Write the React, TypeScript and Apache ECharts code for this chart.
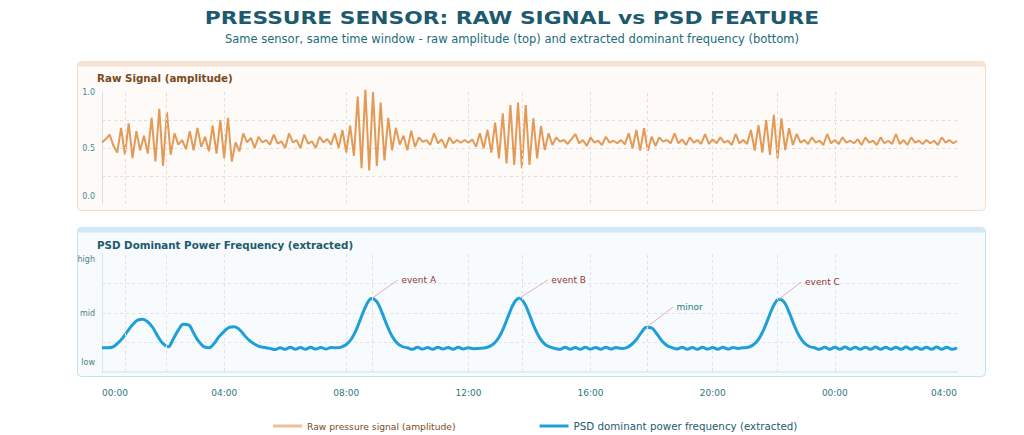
import { useEffect, useRef } from "react";
import * as echarts from "echarts";

// raw samples every 7.5 minutes, 00:00 -> 04:00 next day
const RAW_STEP_HOURS = 0.125;
const rawSignal = [
  0.55, 0.58, 0.62, 0.52, 0.46, 0.68, 0.44, 0.72,
  0.41, 0.65, 0.48, 0.61, 0.45, 0.77, 0.38, 0.85,
  0.34, 0.82, 0.44, 0.63, 0.53, 0.57, 0.49, 0.65,
  0.48, 0.68, 0.51, 0.6, 0.47, 0.7, 0.45, 0.75,
  0.41, 0.77, 0.38, 0.55, 0.47, 0.63, 0.55, 0.59,
  0.5, 0.6, 0.55, 0.57, 0.53, 0.62, 0.54, 0.56,
  0.5, 0.63, 0.55, 0.57, 0.5, 0.62, 0.54, 0.56,
  0.5, 0.6, 0.55, 0.58, 0.53, 0.63, 0.5, 0.66,
  0.46, 0.7, 0.43, 0.96, 0.32, 1.02, 0.3, 1.0,
  0.34, 0.905, 0.39, 0.77, 0.48, 0.68, 0.53, 0.61,
  0.48, 0.655, 0.51, 0.595, 0.556, 0.571, 0.527, 0.631,
  0.542, 0.577, 0.503, 0.595, 0.542, 0.571, 0.547, 0.571,
  0.547, 0.577, 0.512, 0.631, 0.497, 0.661, 0.458, 0.726,
  0.408, 0.81, 0.363, 0.884, 0.348, 0.905, 0.319, 0.884,
  0.348, 0.766, 0.408, 0.696, 0.482, 0.631, 0.527, 0.595,
  0.557, 0.571, 0.536, 0.58, 0.625, 0.542, 0.571, 0.518,
  0.595, 0.548, 0.565, 0.527, 0.601, 0.548, 0.565, 0.542,
  0.571, 0.533, 0.631, 0.497, 0.661, 0.476, 0.676, 0.476,
  0.601, 0.518, 0.595, 0.557, 0.571, 0.542, 0.631, 0.542,
  0.577, 0.527, 0.595, 0.548, 0.571, 0.536, 0.625, 0.536,
  0.577, 0.542, 0.595, 0.548, 0.565, 0.527, 0.625, 0.542,
  0.571, 0.536, 0.661, 0.476, 0.705, 0.458, 0.75, 0.438,
  0.795, 0.408, 0.765, 0.482, 0.676, 0.527, 0.625, 0.548,
  0.571, 0.536, 0.595, 0.548, 0.565, 0.527, 0.625, 0.542,
  0.571, 0.536, 0.595, 0.548, 0.565, 0.542, 0.577, 0.527,
  0.595, 0.548, 0.565, 0.527, 0.595, 0.542, 0.565, 0.536,
  0.625, 0.536, 0.571, 0.527, 0.595, 0.548, 0.565, 0.536,
  0.571, 0.542, 0.565, 0.527, 0.595, 0.548, 0.571, 0.542,
  0.565,
];

// PSD feature every 10 minutes
const PSD_STEP_HOURS = 1 / 6;
const psdFrequency = [
  0.206, 0.206, 0.21, 0.24, 0.285, 0.345,
  0.4, 0.44, 0.447, 0.425, 0.375, 0.3,
  0.24, 0.215, 0.28, 0.355, 0.405, 0.4,
  0.33, 0.26, 0.215, 0.205, 0.24, 0.3,
  0.345, 0.378, 0.384, 0.36, 0.31, 0.265,
  0.235, 0.215, 0.207, 0.2, 0.19, 0.205,
  0.192, 0.21, 0.193, 0.207, 0.192, 0.21,
  0.194, 0.208, 0.195, 0.208, 0.205, 0.211,
  0.233, 0.28, 0.362, 0.471, 0.573, 0.623,
  0.596, 0.506, 0.396, 0.303, 0.245, 0.216,
  0.205, 0.192, 0.21, 0.194, 0.208, 0.192,
  0.21, 0.195, 0.208, 0.193, 0.21, 0.195,
  0.205, 0.198, 0.2, 0.203, 0.214, 0.24,
  0.294, 0.383, 0.493, 0.588, 0.624, 0.582,
  0.484, 0.374, 0.289, 0.237, 0.213, 0.2,
  0.192, 0.21, 0.193, 0.208, 0.192, 0.21,
  0.194, 0.208, 0.193, 0.21, 0.195, 0.207,
  0.2, 0.205, 0.231, 0.276, 0.336, 0.379,
  0.374, 0.324, 0.265, 0.225, 0.207, 0.195,
  0.21, 0.193, 0.208, 0.192, 0.21, 0.194,
  0.208, 0.193, 0.21, 0.195, 0.207, 0.2,
  0.205, 0.21, 0.231, 0.277, 0.357, 0.463,
  0.565, 0.617, 0.594, 0.507, 0.397, 0.305,
  0.246, 0.216, 0.205, 0.192, 0.21, 0.193,
  0.21, 0.192, 0.211, 0.193, 0.21, 0.192,
  0.21, 0.193, 0.211, 0.192, 0.21, 0.193,
  0.21, 0.192, 0.211, 0.193, 0.21, 0.192,
  0.21, 0.193, 0.211, 0.192, 0.21, 0.193,
  0.205,
];

const timeLabels = ["00:00", "04:00", "08:00", "12:00", "16:00", "20:00", "00:00", "04:00"];
const rawTickLabels: Record<string, string> = { "0": "{lo|0.0}", "0.5": "0.5", "1": "1.0" };
const psdTickLabels: Record<string, string> = { "0": "{lo|low}", "0.5": "mid", "1": "{hi|high}" };

// dashed event markers (hours)
const rawMarkerHours = [0.75, 2.1, 13.77, 17.87, 22.1];
const psdMarkerHours = [0.75, 2.1, 8.86, 13.77, 17.87, 22.1];

// callouts on PSD peaks: index into psdFrequency
const callouts = [
  { name: "event A", peakIndex: 53, kind: "event" },
  { name: "event B", peakIndex: 82, kind: "event" },
  { name: "minor", peakIndex: 107, kind: "minor" },
  { name: "event C", peakIndex: 133, kind: "event" },
];
const calloutEnds = [
  [9.69, 0.78],
  [14.6, 0.78],
  [18.7, 0.55],
  [22.91, 0.765],
];

const FONT = "DejaVu Sans";
const RAW_NAME = "Raw pressure signal (amplitude)";
const PSD_NAME = "PSD dominant power frequency (extracted)";

export default function App() {
  const ref = useRef<HTMLDivElement>(null);
  useEffect(() => {
    document.body.style.margin = "0";
    if (!ref.current) return;
    const chart = echarts.init(ref.current, undefined, { renderer: "svg" });

    const rawData = rawSignal.map((v, i) => [i * RAW_STEP_HOURS, v]);
    const psdData = psdFrequency.map((v, i) => [i * PSD_STEP_HOURS, v]);

    const xBase = {
      type: "value",
      min: 0,
      max: 28,
      interval: 4,
      axisTick: { show: false },
    };

    chart.setOption({
      animation: false,
      textStyle: { fontFamily: FONT },
      graphic: {
        elements: [
          {
            type: "rect", z: -10, silent: true,
            shape: { x: 77.5, y: 61.5, width: 908, height: 149, r: 4 },
            style: { fill: "#fdfaf8", stroke: "#f2dccb", lineWidth: 1 },
          },
          {
            type: "rect", z: -9, silent: true,
            shape: { x: 77.5, y: 61.5, width: 908, height: 5, r: [4, 4, 0, 0] },
            style: { fill: "#f6e3d3" },
          },
          {
            type: "rect", z: -10, silent: true,
            shape: { x: 77.5, y: 227.5, width: 908, height: 149, r: 4 },
            style: { fill: "#f7fbfd", stroke: "#c4e2ef", lineWidth: 1 },
          },
          {
            type: "rect", z: -9, silent: true,
            shape: { x: 77.5, y: 227.5, width: 908, height: 5, r: [4, 4, 0, 0] },
            style: { fill: "#d0e9f4" },
          },
          {
            type: "text", x: 512, y: 18, scaleX: 1.21,
            style: {
              text: "PRESSURE SENSOR: RAW SIGNAL vs PSD FEATURE",
              fontFamily: FONT, fontSize: 18, fontWeight: "bold",
              fill: "#1d5a6e", align: "center", verticalAlign: "middle",
            },
          },
          {
            type: "text", x: 512, y: 39,
            style: {
              text: "Same sensor, same time window - raw amplitude (top) and extracted dominant frequency (bottom)",
              fontFamily: FONT, fontSize: 11.5,
              fill: "#216c7a", align: "center", verticalAlign: "middle",
            },
          },
          {
            type: "text", x: 97, y: 78,
            style: {
              text: "Raw Signal (amplitude)",
              fontFamily: FONT, fontSize: 10.3, fontWeight: "bold",
              fill: "#7b4a1c", verticalAlign: "middle",
            },
          },
          {
            type: "text", x: 97, y: 244.5,
            style: {
              text: "PSD Dominant Power Frequency (extracted)",
              fontFamily: FONT, fontSize: 10.3, fontWeight: "bold",
              fill: "#1d5a6e", verticalAlign: "middle",
            },
          },
        ],
      },
      legend: {
        top: 416,
        left: 268,
        itemWidth: 29,
        itemHeight: 3,
        itemGap: 84,
        icon: "rect",
        textStyle: { fontSize: 9, fontFamily: FONT },
        data: [
          { name: RAW_NAME, itemStyle: { color: "#f0bf95" }, textStyle: { color: "#7b4a1c", fontSize: 9.2 } },
          { name: PSD_NAME, itemStyle: { color: "#1f9fd7" }, textStyle: { color: "#1d5a6e", fontSize: 10.3 } },
        ],
      },
      grid: [
        { left: 102, right: 67, top: 92, height: 112 },
        { left: 102, right: 67, top: 254, height: 118 },
      ],
      xAxis: [
        {
          ...xBase,
          gridIndex: 0,
          axisLine: { show: false },
          axisLabel: { show: false },
          splitLine: {
            show: true, showMinLine: false, showMaxLine: false,
            lineStyle: { type: [3, 3], color: "#d3e4e6", width: 1 },
          },
        },
        {
          ...xBase,
          gridIndex: 1,
          offset: 10,
          axisLine: { show: true, lineStyle: { color: "#d9e9ef", width: 1.5 } },
          axisLabel: {
            show: true,
            fontSize: 9,
            color: "#2e7880",
            margin: 6,
            alignMinLabel: "left",
            alignMaxLabel: "right",
            formatter: (v: number) => timeLabels[Math.round(v / 4)] ?? "",
          },
          splitLine: {
            show: true, showMinLine: false, showMaxLine: false,
            lineStyle: { type: [3, 3], color: "#dde3e6", width: 1 },
          },
        },
      ],
      yAxis: [
        {
          type: "value",
          gridIndex: 0,
          min: 0,
          max: 1,
          interval: 0.25,
          axisLine: { show: true, lineStyle: { color: "#cfe3e4" } },
          axisTick: { show: false },
          axisLabel: {
            fontSize: 8,
            color: "#3d8a90",
            margin: 7,
            formatter: (v: number) => rawTickLabels[String(v)] ?? "",
            rich: {
              lo: { fontSize: 8, color: "#3d8a90", fontFamily: FONT, padding: [0, 0, 16, 0] },
            },
          },
          splitLine: {
            show: true, showMinLine: false, showMaxLine: false,
            lineStyle: { type: [3, 3], color: "#d3e4e6" },
          },
        },
        {
          type: "value",
          gridIndex: 1,
          min: 0,
          max: 1,
          interval: 0.25,
          axisLine: { show: true, lineStyle: { color: "#dbe7eb" } },
          axisTick: { show: false },
          axisLabel: {
            fontSize: 8,
            color: "#4a7f86",
            margin: 7,
            formatter: (v: number) => psdTickLabels[String(v)] ?? "",
            rich: {
              lo: { fontSize: 8, color: "#4a7f86", fontFamily: FONT, padding: [0, 0, 20, 0] },
              hi: { fontSize: 8, color: "#4a7f86", fontFamily: FONT, padding: [10, 0, 0, 0] },
            },
          },
          splitLine: {
            show: true, showMinLine: false, showMaxLine: false,
            lineStyle: { type: [3, 3], color: "#dde3e6" },
          },
        },
      ],
      series: [
        {
          name: RAW_NAME,
          type: "line",
          xAxisIndex: 0,
          yAxisIndex: 0,
          data: rawData,
          showSymbol: false,
          clip: false,
          z: 3,
          lineStyle: { color: "#e39a56", width: 2 },
          itemStyle: { color: "#e39a56" },
          markLine: {
            silent: true,
            symbol: ["none", "none"],
            label: { show: false },
            lineStyle: { type: [3, 3], color: "#eed8d4", width: 1 },
            data: rawMarkerHours.map((h) => ({ xAxis: h })),
          },
        },
        {
          name: PSD_NAME,
          type: "line",
          xAxisIndex: 1,
          yAxisIndex: 1,
          data: psdData,
          showSymbol: false,
          smooth: 0.4,
          clip: false,
          z: 3,
          lineStyle: { color: "#1f9fd7", width: 3 },
          itemStyle: { color: "#1f9fd7" },
          markLine: {
            silent: true,
            symbol: ["none", "none"],
            label: { show: false },
            lineStyle: { type: [3, 3], color: "#e0e0e0", width: 1 },
            data: [
              ...psdMarkerHours.map((h) => ({ xAxis: h })),
              ...callouts.map((c, i) => [
                {
                  coord: [c.peakIndex * PSD_STEP_HOURS, psdFrequency[c.peakIndex]],
                  lineStyle: { type: "solid", color: "#e4b0b5", width: 1 },
                },
                { coord: calloutEnds[i] },
              ]),
            ],
          },
          markPoint: {
            silent: true,
            symbol: "circle",
            symbolSize: 1,
            itemStyle: { color: "rgba(0,0,0,0)" },
            label: {
              show: true,
              position: "right",
              distance: 3,
              fontSize: 9,
              fontFamily: FONT,
              formatter: (p: any) => p.name,
            },
            data: callouts.map((c, i) => ({
              name: c.name,
              coord: calloutEnds[i],
              label: { color: c.kind === "minor" ? "#2b7a78" : "#9a3535" },
            })),
          },
        },
      ],
    });
    return () => chart.dispose();
  }, []);
  return <div ref={ref} style={{ width: 1024, height: 435 }} />;
}
